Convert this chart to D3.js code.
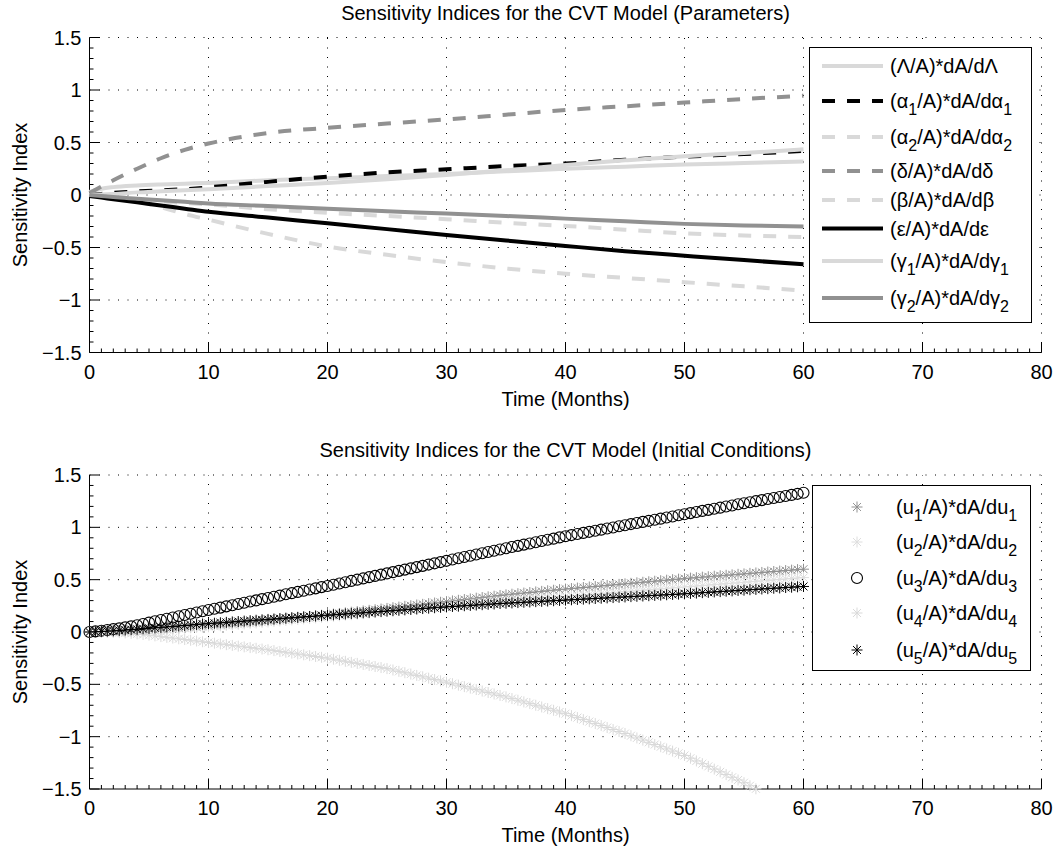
<!DOCTYPE html>
<html><head><meta charset="utf-8">
<script src="https://cdn.jsdelivr.net/npm/d3@7"></script>
<style>
html,body{margin:0;padding:0;background:#fff;}
text{font-family:"Liberation Sans",Arial,Helvetica,sans-serif;fill:#000;}
</style></head>
<body>
<svg id="chart" width="1058" height="848"></svg>
<script>
// ---------------- DATA ----------------
const xTicks = [0,10,20,30,40,50,60,70,80];
const yTicks = [-1.5,-1,-0.5,0,0.5,1,1.5];
const yTickLabels = ["\u22121.5","\u22121","\u22120.5","0","0.5","1","1.5"];

// Top panel (parameters)
const tTop = [0,1,2,4,6,8,10,15,20,25,30,35,40,45,50,55,60];
const sLambda = [0.03,0.06,0.075,0.09,0.10,0.108,0.115,0.14,0.16,0.18,0.20,0.225,0.25,0.27,0.29,0.305,0.32];
const sAlpha1 = [0,0.01,0.02,0.035,0.045,0.055,0.073,0.125,0.175,0.215,0.245,0.275,0.30,0.335,0.365,0.39,0.42];
const sAlpha2 = [0,-0.005,-0.02,-0.06,-0.115,-0.18,-0.235,-0.37,-0.49,-0.57,-0.64,-0.70,-0.75,-0.79,-0.83,-0.87,-0.91];
const sDelta  = [0.02,0.08,0.14,0.25,0.35,0.43,0.49,0.59,0.64,0.68,0.72,0.765,0.81,0.845,0.88,0.915,0.945];
const sBeta   = [0,-0.01,-0.02,-0.04,-0.06,-0.075,-0.09,-0.135,-0.17,-0.2,-0.23,-0.265,-0.295,-0.33,-0.365,-0.385,-0.40];
const sEps    = [-0.01,-0.025,-0.04,-0.07,-0.1,-0.13,-0.16,-0.215,-0.27,-0.325,-0.38,-0.433,-0.485,-0.535,-0.578,-0.62,-0.66];
const sGamma1 = [0,0.005,0.01,0.025,0.035,0.045,0.055,0.085,0.115,0.15,0.19,0.235,0.285,0.33,0.37,0.40,0.435];
const sGamma2 = [0,-0.01,-0.02,-0.035,-0.05,-0.065,-0.08,-0.105,-0.132,-0.155,-0.177,-0.2,-0.225,-0.25,-0.275,-0.29,-0.30];
const topLabels = ["(\u039B/A)*dA/d\u039B","(\u03B1_1/A)*dA/d\u03B1_1","(\u03B1_2/A)*dA/d\u03B1_2","(\u03B4/A)*dA/d\u03B4","(\u03B2/A)*dA/d\u03B2","(\u03B5/A)*dA/d\u03B5","(\u03B3_1/A)*dA/d\u03B3_1","(\u03B3_2/A)*dA/d\u03B3_2"];

// Bottom panel (initial conditions), sampled every half month from 0 to 60
const tBottom = d3.range(0, 60.25, 0.5);
const u1 = [0,0.001,0.002,0.003,0.005,0.007,0.009,0.011,0.014,0.017,0.02,
 0.024,0.028,0.032,0.036,0.04,0.044,0.048,0.052,0.056,0.06,
 0.065,0.07,0.075,0.08,0.085,0.09,0.095,0.10,0.105,0.11,
 0.116,0.121,0.127,0.132,0.138,0.143,0.149,0.154,0.16,0.165,
 0.171,0.177,0.183,0.189,0.195,0.201,0.207,0.213,0.219,0.225,
 0.232,0.238,0.245,0.251,0.258,0.264,0.271,0.277,0.284,0.29,
 0.297,0.303,0.31,0.316,0.323,0.329,0.336,0.342,0.349,0.355,
 0.361,0.366,0.372,0.377,0.383,0.388,0.394,0.399,0.405,0.41,
 0.415,0.42,0.425,0.43,0.435,0.44,0.445,0.45,0.455,0.46,
 0.465,0.47,0.475,0.48,0.485,0.49,0.495,0.50,0.505,0.51,
 0.515,0.519,0.524,0.528,0.533,0.537,0.542,0.546,0.551,0.555,
 0.56,0.564,0.569,0.573,0.578,0.582,0.587,0.591,0.596,0.60];
const u2 = [0,0.001,0.002,0.003,0.004,0.005,0.007,0.009,0.011,0.013,0.015,
 0.019,0.022,0.026,0.029,0.033,0.036,0.04,0.043,0.047,0.05,
 0.055,0.059,0.064,0.068,0.073,0.077,0.082,0.086,0.091,0.095,
 0.10,0.105,0.11,0.115,0.12,0.125,0.13,0.135,0.14,0.145,
 0.15,0.155,0.16,0.165,0.17,0.175,0.18,0.185,0.19,0.195,
 0.2,0.205,0.21,0.215,0.22,0.225,0.23,0.235,0.24,0.245,
 0.25,0.255,0.26,0.265,0.27,0.275,0.28,0.285,0.29,0.295,
 0.30,0.304,0.309,0.313,0.318,0.322,0.327,0.331,0.336,0.34,
 0.345,0.349,0.354,0.358,0.363,0.367,0.372,0.376,0.381,0.385,
 0.39,0.394,0.399,0.403,0.408,0.412,0.417,0.421,0.426,0.43,
 0.435,0.439,0.444,0.448,0.453,0.457,0.462,0.466,0.471,0.475,
 0.48,0.484,0.489,0.493,0.498,0.502,0.507,0.511,0.516,0.52];
const u3 = [0,0.006,0.012,0.019,0.027,0.035,0.044,0.054,0.065,0.077,0.09,
 0.102,0.114,0.126,0.138,0.15,0.162,0.174,0.186,0.198,0.21,
 0.222,0.233,0.245,0.256,0.268,0.279,0.291,0.302,0.314,0.325,
 0.337,0.348,0.360,0.371,0.383,0.394,0.406,0.417,0.429,0.44,
 0.452,0.464,0.476,0.488,0.50,0.512,0.524,0.536,0.548,0.56,
 0.572,0.584,0.596,0.608,0.62,0.632,0.644,0.656,0.668,0.68,
 0.692,0.704,0.716,0.728,0.74,0.752,0.764,0.776,0.788,0.80,
 0.812,0.823,0.835,0.846,0.858,0.869,0.881,0.892,0.904,0.915,
 0.926,0.936,0.947,0.957,0.968,0.978,0.989,0.999,1.010,1.02,
 1.031,1.041,1.052,1.062,1.073,1.083,1.094,1.104,1.115,1.125,
 1.136,1.146,1.157,1.167,1.178,1.188,1.199,1.209,1.220,1.23,
 1.24,1.25,1.26,1.27,1.28,1.29,1.30,1.31,1.32,1.33];
const u4 = [0,0,-0.001,-0.002,-0.004,-0.006,-0.009,-0.013,-0.018,-0.024,-0.03,
 -0.037,-0.044,-0.051,-0.058,-0.065,-0.072,-0.079,-0.086,-0.093,-0.1,
 -0.107,-0.114,-0.121,-0.128,-0.135,-0.142,-0.149,-0.156,-0.163,-0.17,
 -0.178,-0.186,-0.194,-0.202,-0.21,-0.218,-0.226,-0.234,-0.242,-0.25,
 -0.26,-0.27,-0.28,-0.29,-0.30,-0.31,-0.32,-0.33,-0.34,-0.35,
 -0.363,-0.376,-0.389,-0.402,-0.415,-0.428,-0.441,-0.454,-0.467,-0.48,
 -0.494,-0.508,-0.522,-0.536,-0.55,-0.564,-0.578,-0.592,-0.606,-0.62,
 -0.636,-0.652,-0.668,-0.684,-0.70,-0.716,-0.732,-0.748,-0.764,-0.78,
 -0.799,-0.818,-0.837,-0.856,-0.875,-0.894,-0.913,-0.932,-0.951,-0.97,
 -0.991,-1.012,-1.033,-1.054,-1.075,-1.096,-1.117,-1.138,-1.159,-1.18,
 -1.206,-1.232,-1.258,-1.284,-1.31,-1.336,-1.362,-1.388,-1.414,-1.44,
 -1.469,-1.498,-1.527,-1.556,-1.585,-1.614,-1.643,-1.672,-1.701,-1.73];
const u5 = [0,0.002,0.005,0.008,0.011,0.015,0.019,0.023,0.026,0.031,0.035,
 0.04,0.044,0.049,0.053,0.058,0.062,0.067,0.071,0.076,0.08,
 0.084,0.088,0.092,0.096,0.10,0.104,0.108,0.112,0.116,0.12,
 0.124,0.128,0.132,0.136,0.14,0.144,0.148,0.152,0.156,0.16,
 0.164,0.168,0.172,0.176,0.18,0.184,0.188,0.192,0.196,0.2,
 0.204,0.208,0.212,0.216,0.22,0.224,0.228,0.232,0.236,0.24,
 0.244,0.247,0.251,0.254,0.258,0.261,0.265,0.268,0.272,0.275,
 0.278,0.281,0.284,0.287,0.29,0.293,0.296,0.299,0.302,0.305,
 0.308,0.311,0.314,0.317,0.32,0.323,0.326,0.329,0.332,0.335,
 0.338,0.341,0.344,0.347,0.35,0.353,0.356,0.359,0.362,0.365,
 0.369,0.372,0.376,0.379,0.383,0.386,0.39,0.393,0.397,0.40,
 0.404,0.407,0.411,0.414,0.418,0.421,0.425,0.428,0.432,0.435];
const bottomLabels = ["(u_1/A)*dA/du_1","(u_2/A)*dA/du_2","(u_3/A)*dA/du_3","(u_4/A)*dA/du_4","(u_5/A)*dA/du_5"];

// ---------------- STYLE ----------------
const LIGHT = "#d9d9d9", MID = "#919191", BLACK = "#000";
const topSeries = [
  {v:sLambda, c:LIGHT, dash:null},
  {v:sAlpha1, c:BLACK, dash:"13,12"},
  {v:sAlpha2, c:LIGHT, dash:"13,12"},
  {v:sDelta,  c:MID,   dash:"13,12"},
  {v:sBeta,   c:LIGHT, dash:"13,12"},
  {v:sEps,    c:BLACK, dash:null},
  {v:sGamma1, c:LIGHT, dash:null},
  {v:sGamma2, c:MID,   dash:null}
].map((s,i)=>({...s,label:topLabels[i]}));
const bottomSeries = [
  {v:u1, c:MID,   m:"star"},
  {v:u2, c:"#dedede", m:"star"},
  {v:u3, c:BLACK, m:"circle"},
  {v:u4, c:LIGHT, m:"star"},
  {v:u5, c:BLACK, m:"star"}
].map((s,i)=>({...s,label:bottomLabels[i]}));

const FS = 20;
const svg = d3.select("#chart");
svg.append("rect").attr("width",1058).attr("height",848).attr("fill","#fff");

const x = d3.scaleLinear().domain([0,80]).range([89.5,1041.5]);

function richText(sel, str){
  const parts = str.split(/_(\w)/);
  let sub = false;
  parts.forEach((p,i)=>{
    if(i%2===1){
      sel.append("tspan").attr("font-size",16).attr("dy",7).text(p);
      sub = true;
    } else if(p.length){
      const t = sel.append("tspan").text(p);
      if(sub){ t.attr("dy",-7); sub=false; }
    }
  });
}

function panel(yTopPx, yBotPx, title){
  const y = d3.scaleLinear().domain([-1.5,1.5]).range([yBotPx,yTopPx]);
  const g = svg.append("g");
  // grid
  xTicks.filter(t=>t!==0).forEach(t=>{
    g.append("line").attr("x1",x(t)).attr("x2",x(t)).attr("y1",y(-1.5)).attr("y2",y(1.5))
     .attr("stroke","#000").attr("stroke-width",1).attr("stroke-dasharray","1,8.5");
  });
  yTicks.filter(t=>t!==-1.5).forEach(t=>{
    g.append("line").attr("x1",x(0)).attr("x2",x(80)).attr("y1",y(t)).attr("y2",y(t))
     .attr("stroke","#000").attr("stroke-width",1).attr("stroke-dasharray","1,8.5");
  });
  // axes lines
  g.append("line").attr("x1",x(0)).attr("x2",x(0)).attr("y1",y(-1.5)).attr("y2",y(1.5)).attr("stroke","#000");
  g.append("line").attr("x1",x(0)).attr("x2",x(80)).attr("y1",y(-1.5)).attr("y2",y(-1.5)).attr("stroke","#000");
  // major ticks (inward)
  xTicks.forEach(t=>g.append("line").attr("x1",x(t)).attr("x2",x(t)).attr("y1",y(-1.5)).attr("y2",y(-1.5)-10).attr("stroke","#000"));
  yTicks.forEach(t=>g.append("line").attr("x1",x(0)).attr("x2",x(0)+10).attr("y1",y(t)).attr("y2",y(t)).attr("stroke","#000"));
  // minor ticks
  d3.range(0,81,1).filter(t=>t%10!==0).forEach(t=>g.append("line").attr("x1",x(t)).attr("x2",x(t)).attr("y1",y(-1.5)).attr("y2",y(-1.5)-4).attr("stroke","#000"));
  d3.range(-15,16,1).filter(k=>k%5!==0).forEach(k=>g.append("line").attr("x1",x(0)).attr("x2",x(0)+4).attr("y1",y(k/10)).attr("y2",y(k/10)).attr("stroke","#000"));
  // tick labels
  xTicks.forEach(t=>g.append("text").attr("x",x(t)).attr("y",y(-1.5)+26).attr("text-anchor","middle").attr("font-size",FS).text(String(t)));
  yTicks.forEach((t,i)=>g.append("text").attr("x",x(0)-8).attr("y",y(t)+7).attr("text-anchor","end").attr("font-size",FS).text(yTickLabels[i]));
  // labels
  g.append("text").attr("x",(x(0)+x(80))/2).attr("y",y(-1.5)+53).attr("text-anchor","middle").attr("font-size",FS).text("Time (Months)");
  g.append("text").attr("transform",`translate(27,${(yTopPx+yBotPx)/2}) rotate(-90)`).attr("text-anchor","middle").attr("font-size",FS).text("Sensitivity Index");
  g.append("text").attr("x",(x(0)+x(80))/2).attr("y",yTopPx-18).attr("text-anchor","middle").attr("font-size",FS).text(title);
  return {g,y};
}

// ---------- TOP PANEL ----------
const P1 = panel(37.5, 352.5, "Sensitivity Indices for the CVT Model (Parameters)");
const line1 = d3.line().x((d,i)=>x(tTop[i])).y(d=>P1.y(d)).curve(d3.curveMonotoneX);
topSeries.forEach(s=>{
  P1.g.append("path").attr("d",line1(s.v)).attr("fill","none").attr("stroke",s.c)
    .attr("stroke-width",4).attr("stroke-dasharray",s.dash);
});
// legend
const lg1 = svg.append("g");
lg1.append("rect").attr("x",809.5).attr("y",47.5).attr("width",222).attr("height",275).attr("fill","#fff").attr("stroke","#000");
const lgY1 = [66,101,137,171,200,228.5,261,298];
topSeries.forEach((s,i)=>{
  lg1.append("line").attr("x1",822).attr("x2",883).attr("y1",lgY1[i]).attr("y2",lgY1[i])
    .attr("stroke",s.c).attr("stroke-width",4).attr("stroke-dasharray",s.dash);
  const t = lg1.append("text").attr("x",890).attr("y",lgY1[i]+7).attr("font-size",FS);
  richText(t, s.label);
});

// ---------- BOTTOM PANEL ----------
const P2 = panel(475, 789, "Sensitivity Indices for the CVT Model (Initial Conditions)");
function starPath(s){
  const d = s*0.72;
  return `M${-s},0L${s},0M0,${-s}L0,${s}M${-d},${-d}L${d},${d}M${-d},${d}L${d},${-d}`;
}
function drawMarker(g, m, c, cx, cy){
  if(m==="circle"){
    g.append("circle").attr("cx",cx).attr("cy",cy).attr("r",5.5).attr("fill","none").attr("stroke",c).attr("stroke-width",1.1);
  } else {
    g.append("path").attr("transform",`translate(${cx},${cy})`).attr("d",starPath(5.5)).attr("fill","none").attr("stroke",c).attr("stroke-width",1);
  }
}
bottomSeries.forEach(s=>{
  const gg = P2.g.append("g");
  s.v.forEach((v,i)=>{
    if(v>=-1.5 && v<=1.5) drawMarker(gg, s.m, s.c, x(tBottom[i]), P2.y(v));
  });
});
const lg2 = svg.append("g");
lg2.append("rect").attr("x",812.5).attr("y",485.5).attr("width",218).attr("height",185).attr("fill","#fff").attr("stroke","#000");
const lgY2 = [507,542,578,613,650];
bottomSeries.forEach((s,i)=>{
  drawMarker(lg2, s.m, s.c, 857, lgY2[i]);
  const t = lg2.append("text").attr("x",896).attr("y",lgY2[i]+7).attr("font-size",FS);
  richText(t, s.label);
});
</script>
</body></html>
